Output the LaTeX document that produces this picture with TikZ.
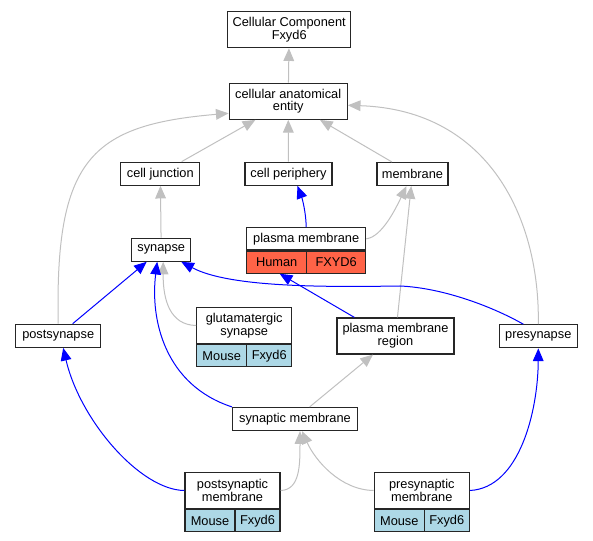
\documentclass[tikz,border=0pt]{standalone}
\usepackage{fontspec}
\setmainfont{Liberation Sans}
\usetikzlibrary{arrows.meta,calc}
\newdimen\gvpx \gvpx=0.75pt
\definecolor{edgegray}{HTML}{C0C0C0}
\definecolor{humanred}{HTML}{FF6347}
\definecolor{mouseblue}{HTML}{ADD8E6}
\tikzset{
  box/.style={draw=black!85, line width=0.9pt, fill=white, inner sep=0pt, align=center,
    font=\fontsize{9.6}{9.5}\selectfont},
  human/.style={box, fill=humanred, minimum height=22\gvpx},
  mouse/.style={box, fill=mouseblue, minimum height=22\gvpx},
  isa/.style={draw=edgegray, line width=0.75pt, -{Triangle[length=9.5pt,width=8pt]}},
  partof/.style={draw=blue, line width=0.75pt, -{Triangle[length=9.5pt,width=8pt]}}
}
\begin{document}
\begin{tikzpicture}[x=0.75pt,y=-0.75pt]
    \useasboundingbox (0,0) rectangle (593,541);
    \node[box, minimum width=123\gvpx, minimum height=36\gvpx] (cc) at (289.2, 29.7) {Cellular Component\\Fxyd6};
    \node[box, minimum width=118\gvpx, minimum height=36\gvpx] (cae) at (288.2, 101.3) {cellular anatomical\\entity};
    \node[box, minimum width=79\gvpx, minimum height=23\gvpx] (cj) at (160.3, 173.7) {cell junction};
    \node[box, minimum width=87\gvpx, minimum height=23\gvpx] (cp) at (288.5, 173.8) {cell periphery};
    \node[box, minimum width=71\gvpx, minimum height=23\gvpx] (mem) at (412.5, 174) {membrane};
    \node[box, minimum width=59\gvpx, minimum height=23\gvpx] (syn) at (161.2, 249.7) {synapse};
    \node[box, minimum width=119\gvpx, minimum height=22.3\gvpx] (pm) at (306.2, 238.8) {plasma membrane};
    \node[human, minimum width=60\gvpx, anchor=north west] (pmh) at (pm.south west) {Human};
    \node[human, minimum width=59\gvpx, anchor=north east] (pmf) at (pm.south east) {FXYD6};
    \node[box, minimum width=85\gvpx, minimum height=23\gvpx] (postsyn) at (58.2, 335.8) {postsynapse};
    \node[box, minimum width=95\gvpx, minimum height=36\gvpx] (gs) at (244.2, 325.5) {glutamatergic\\synapse};
    \node[mouse, minimum width=50\gvpx, anchor=north west] (gsm) at (gs.south west) {Mouse};
    \node[mouse, minimum width=45\gvpx, anchor=north east] (gsf) at (gs.south east) {Fxyd6};
    \node[box, minimum width=117\gvpx, minimum height=36\gvpx] (pmr) at (395.5, 336) {plasma membrane\\region};
    \node[box, minimum width=78\gvpx, minimum height=23\gvpx] (presyn) at (538.3, 336.3) {presynapse};
    \node[box, minimum width=125\gvpx, minimum height=23\gvpx] (sm) at (295, 419) {synaptic membrane};
    \node[box, minimum width=95\gvpx, minimum height=36\gvpx] (psm) at (232.5, 490.5) {postsynaptic\\membrane};
    \node[mouse, minimum width=50\gvpx, anchor=north west] (psmm) at (psm.south west) {Mouse};
    \node[mouse, minimum width=45\gvpx, anchor=north east] (psmf) at (psm.south east) {Fxyd6};
    \node[box, minimum width=95\gvpx, minimum height=36\gvpx] (prm) at (421.8, 490.5) {presynaptic\\membrane};
    \node[mouse, minimum width=50\gvpx, anchor=north west] (prmm) at (prm.south west) {Mouse};
    \node[mouse, minimum width=45\gvpx, anchor=north east] (prmf) at (prm.south east) {Fxyd6};
    % grey edges
    \draw[isa] (cae) -- (cc);
    \draw[isa] (cj) -- (cae);
    \draw[isa] (cp) -- (cae);
    \draw[isa] (mem) -- (cae);
    \draw[isa] (syn) -- (cj);
    \draw[isa] (pmr) -- (mem);
    \draw[isa] (sm) -- (pmr);
    \draw[isa] (postsyn.north) .. controls (55,160) and (90,125) .. ($(cae.west)+(0,12)$);
    \draw[isa] (presyn.north) .. controls (540,220) and (490,110) .. ($(cae.east)+(0,4)$);
    \draw[isa] (gs.west) .. controls (170,325) and (163,300) .. ($(syn.south)+(2,0)$);
    \draw[isa] (pm.east) .. controls (382,237) and (396,208) .. ($(mem.south)+(-6,0)$);
    \draw[isa] (psm.east) .. controls (300,490) and (300,465) .. ($(sm.south)+(5,0)$);
    \draw[isa] (prm.west) .. controls (340,490) and (315,460) .. ($(sm.south)+(7,0)$);
    % blue edges
    \draw[partof] (postsyn) -- (syn);
    \draw[partof] (pm.north) .. controls (306,212) and (302,198) .. ($(cp.south)+(9,0)$);
    \draw[partof] ($(pmr.north west)+(18,0)$) -- ($(pmh.south)+(3,0)$);
    \draw[partof] (sm.north west) .. controls (165,385) and (150,320) .. ($(syn.south)+(-4,0)$);
    \draw[partof] ($(presyn.north)+(-15,0)$) .. controls (495,308) and (445,288) .. (400,286)
        .. controls (330,287) and (230,288) .. ($(syn.south east)+(-10,0)$);
    \draw[partof] (psm.west) .. controls (140,490) and (80,420) .. ($(postsyn.south)+(5,0)$);
    \draw[partof] (prm.east) .. controls (520,488) and (538,410) .. (presyn.south);
\end{tikzpicture}
\end{document}
